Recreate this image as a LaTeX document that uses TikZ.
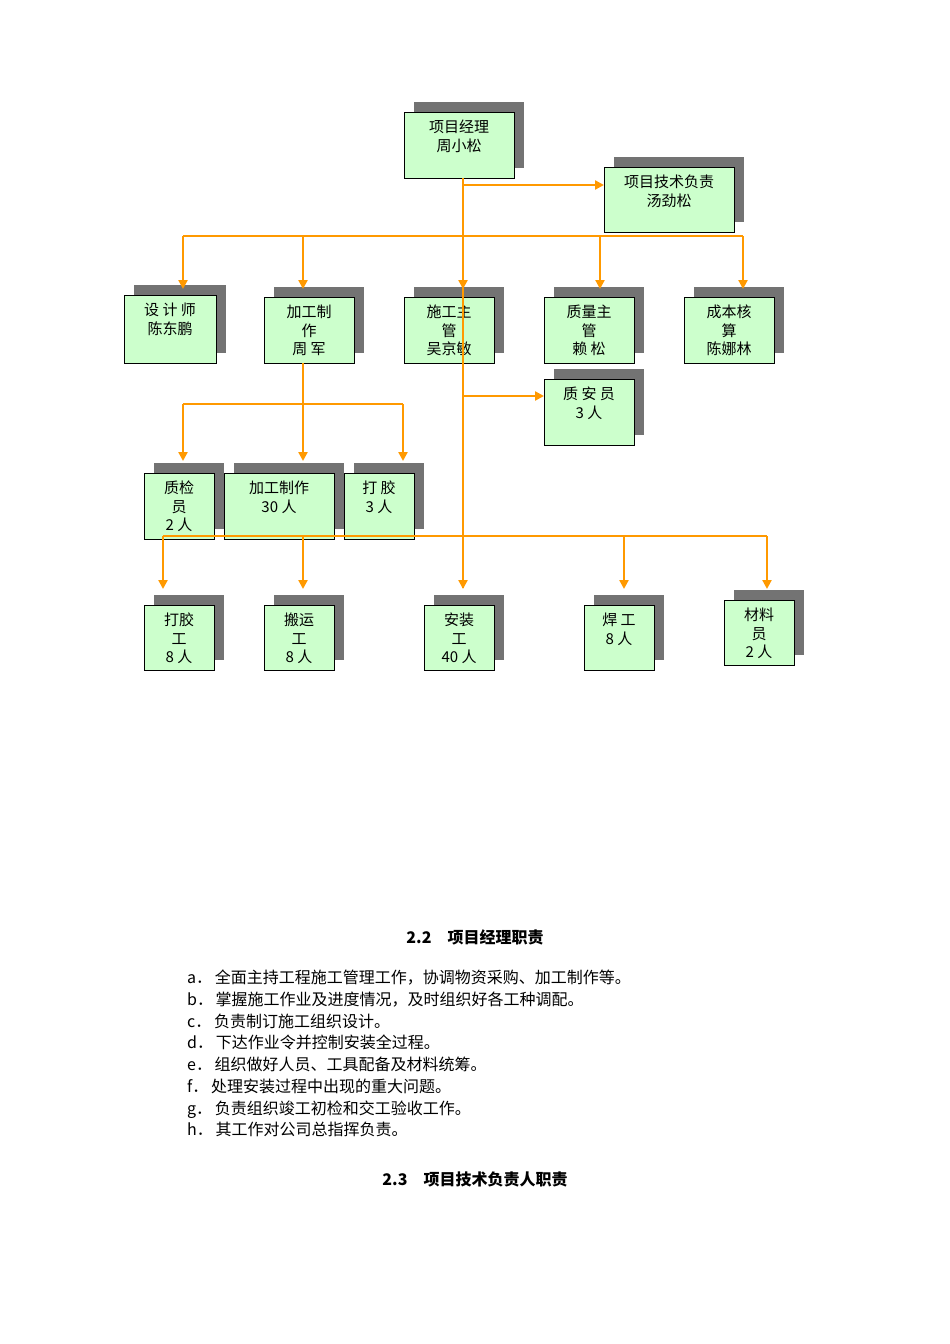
\documentclass[tikz,border=0pt]{standalone}
\usepackage{fontspec}
\newfontfamily\cjk{Noto Sans CJK SC}
\usetikzlibrary{arrows.meta}
\begin{document}
\begin{tikzpicture}[x=1pt,y=-1pt,
  conn/.style={draw={rgb,255:red,255;green,153;blue,0},line width=2.6pt},
  arr/.style={conn,-{Triangle[length=9pt,width=9pt]}},
  txt/.style={font=\cjk\fontsize{15}{18.5}\selectfont,align=center}]
\useasboundingbox (0,0) rectangle (950,1344);
\newcommand\bx[6]{% name, x1,y1,x2,y2, text
  \fill[gray!90!black] (#2+10,#3-10) rectangle (#4+10,#5-10);
  \draw[fill={rgb,255:red,204;green,255;blue,204},line width=1pt] (#2,#3) rectangle (#4,#5);
  \node[txt,anchor=north,inner sep=0pt] (#1) at ({(#2+#4)/2},#3+8) {#6};
  \coordinate (#1-b) at ({(#2+#4)/2},#5);}
\bx{pm}{404}{112}{514}{178}{项目经理\\周小松}
\bx{te}{604}{167}{734}{232}{项目技术负责\\汤劲松}
\bx{sj}{124}{295}{216}{363}{设 计 师\\陈东鹏}
\bx{jg}{264}{297}{354}{363}{加工制\\作\\周 军}
\bx{sg}{404}{297}{494}{363}{施工主\\管\\吴京敏}
\bx{zl}{544}{297}{634}{363}{质量主\\管\\赖 松}
\bx{cb}{684}{297}{774}{363}{成本核\\算\\陈娜林}
\bx{za}{544}{379}{634}{445}{质 安 员\\3 人}
\bx{zj}{144}{473}{214}{539}{质检\\员\\2 人}
\bx{jz}{224}{473}{334}{539}{加工制作\\30 人}
\bx{dj}{344}{473}{414}{539}{打 胶\\3 人}
\bx{djg}{144}{605}{214}{670}{打胶\\工\\8 人}
\bx{by}{264}{605}{334}{670}{搬运\\工\\8 人}
\bx{az}{424}{605}{494}{670}{安装\\工\\40 人}
\bx{hg}{584}{605}{654}{670}{焊 工\\8 人}
\bx{cl}{724}{600}{794}{665}{材料\\员\\2 人}
\coordinate (b1) at (463,236);
\coordinate (b2) at (303,404);
\coordinate (b3) at (463,536);
\draw[conn] (463,178) -- (463,588);
\draw[arr] (463,185) -- (604,185);
\draw[conn] (183,236) -- (743,236);
\foreach \x in {183,303,463,600,743} \draw[arr] (\x,236) -- (\x,289);
\draw[conn] (303,363) -- (b2);
\draw[conn] (183,404) -- (403,404);
\foreach \x in {183,303,403} \draw[arr] (\x,404) -- (\x,461);
\draw[arr] (463,396) -- (544,396);
\draw[conn] (163,536) -- (767,536);
\foreach \x in {163,303,463,624,767} \draw[arr] (\x,536) -- (\x,589);
\node[font=\cjk\bfseries\fontsize{16}{18}\selectfont] (h1) at (475,937) {2.2\quad 项目经理职责};
\node[anchor=north west,inner sep=0pt,font=\cjk\fontsize{16}{21.7}\selectfont,align=left] (lst) at (187,970) {%
a．\,全面主持工程施工管理工作，协调物资采购、加工制作等。\\
b．\,掌握施工作业及进度情况，及时组织好各工种调配。\\
c．\,负责制订施工组织设计。\\
d．\,下达作业令并控制安装全过程。\\
e．\,组织做好人员、工具配备及材料统筹。\\
f．\,处理安装过程中出现的重大问题。\\
g．\,负责组织竣工初检和交工验收工作。\\
h．\,其工作对公司总指挥负责。};
\node[font=\cjk\bfseries\fontsize{16}{18}\selectfont] (h2) at (475,1179) {2.3\quad 项目技术负责人职责};
\end{tikzpicture}
\end{document}
